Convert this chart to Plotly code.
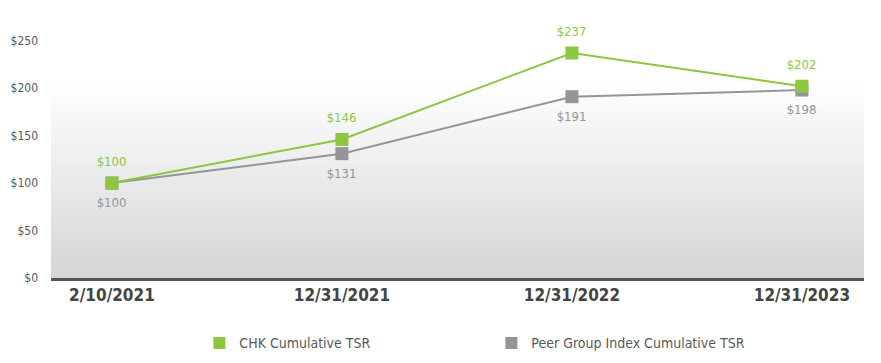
import plotly.graph_objects as go

dates = ["2/10/2021", "12/31/2021", "12/31/2022", "12/31/2023"]
chk_tsr = [100, 146, 237, 202]
peer_tsr = [100, 131, 191, 198]
y_ticks = [0, 50, 100, 150, 200, 250]
y_tick_labels = ["$0", "$50", "$100", "$150", "$200", "$250"]

GREEN = "#8dc63f"
GREY = "#939598"
FONT = "DejaVu Sans"


def f(size, color, weight="normal"):
    return dict(family=FONT, size=size, color=color, weight=weight)


fig = go.Figure()

# gradient background (decoration, paper coordinates)
n = 60
top = 0.80
c0 = (255, 255, 255)
c1 = (212, 213, 215)
shapes = []
for i in range(n):
    f0 = i / n
    f1 = (i + 1) / n
    t = 1 - (f0 + f1) / 2
    col = tuple(round(c0[k] + (c1[k] - c0[k]) * t) for k in range(3))
    shapes.append(dict(type="rect", xref="paper", yref="paper",
                       x0=0, x1=1, y0=top * f0, y1=top * f1 + 0.002,
                       fillcolor="rgb(%d,%d,%d)" % col, line=dict(width=0),
                       layer="below"))

fig.add_trace(go.Scatter(
    x=dates, y=peer_tsr, mode="lines+markers",
    line=dict(color=GREY, width=2),
    marker=dict(symbol="square", size=13, color=GREY),
    showlegend=False, cliponaxis=False))
fig.add_trace(go.Scatter(
    x=dates, y=chk_tsr, mode="lines+markers",
    line=dict(color=GREEN, width=2),
    marker=dict(symbol="square", size=13, color=GREEN),
    showlegend=False, cliponaxis=False))

# data labels
annotations = []
for d, v in zip(dates, chk_tsr):
    annotations.append(dict(x=d, y=v, text="$%d" % v, showarrow=False, yshift=21.5,
                            font=f(13, GREEN)))
for d, v in zip(dates, peer_tsr):
    annotations.append(dict(x=d, y=v, text="$%d" % v, showarrow=False, yshift=-19.5,
                            font=f(13, GREY)))

# legend entries
fig.add_trace(go.Scatter(x=[None], y=[None], mode="markers", name="CHK Cumulative TSR",
                         marker=dict(symbol="square", size=12, color=GREEN)))
fig.add_trace(go.Scatter(x=[None], y=[None], mode="markers", name="Peer Group Index Cumulative TSR",
                         marker=dict(symbol="square", size=12, color=GREY)))

fig.update_layout(
    width=881, height=371,
    margin=dict(l=51, r=17, t=31, b=88),
    paper_bgcolor="white", plot_bgcolor="white",
    shapes=shapes,
    annotations=annotations,
    font=f(13, "#58595b"),
    legend=dict(orientation="h", x=0.1825, xanchor="left", y=-0.2, yanchor="top",
                entrywidth=247, entrywidthmode="pixels",
                font=f(14, "#58595b")),
    xaxis=dict(type="category", range=[-0.265, 3.27], showgrid=False,
               showline=True, linecolor="#555555", linewidth=3, automargin=False,
               ticks="", tickfont=f(17, "#444444", "bold")),
    yaxis=dict(range=[0, 260.2], tickmode="array", tickvals=y_ticks, ticktext=y_tick_labels,
               showgrid=False, zeroline=False, showline=False, ticks="", automargin=False,
               ticklabelstandoff=12,
               tickfont=f(12, "#58595b")),
)

post = (
    "var s=document.createElement('style');"
    "s.textContent='html,body{margin:0!important;padding:0!important;overflow:hidden!important;}"
    ".main-svg text{font-stretch:condensed;}';"
    "document.head.appendChild(s);"
)

fig.write_html("out.html", config={"displayModeBar": False}, post_script=post)
